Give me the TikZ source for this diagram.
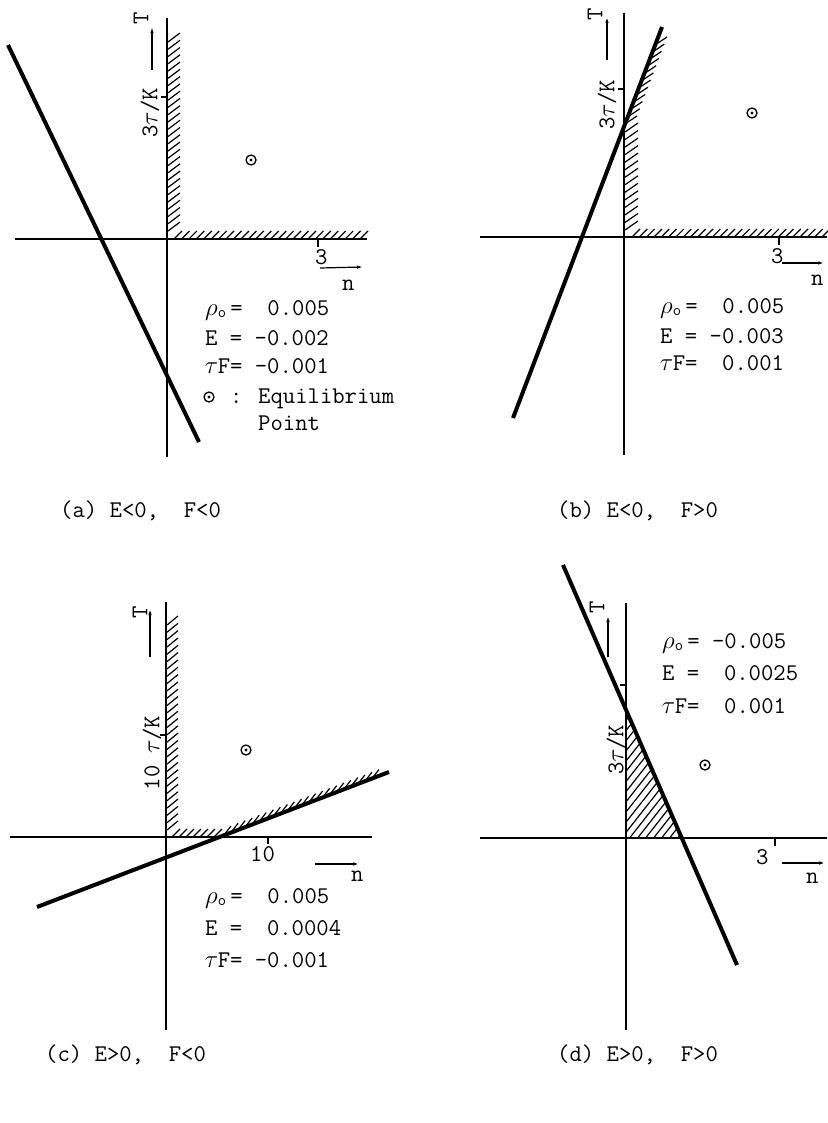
\documentclass[tikz,border=0pt]{standalone}
\usepackage{fontspec}
\usetikzlibrary{calc,arrows.meta}
\newcommand{\blk}{\hphantom{0}}
\newcommand{\tauc}{\makebox[12.6pt]{$\tau$}}
\newcommand{\rhoo}{\makebox[25.2pt][l]{$\rho$\raisebox{-2.5pt}{\fontsize{16}{16}\selectfont o}}}
\newcommand{\hatchalong}[5]{\foreach \hi in {0,...,#3}{\draw[hatch] ($#1!\hi/#3!#2$) -- ++(#4,#5);}}
\begin{document}
\begin{tikzpicture}[x=1pt,y=-1pt,
  axis/.style={line width=1.5pt},
  boldline/.style={line width=4pt},
  hatch/.style={line width=1.2pt},
  tw/.style={font=\ttfamily\fontsize{24}{24}\selectfont, inner sep=0pt, anchor=base west},
  rot/.style={font=\ttfamily\fontsize{24}{24}\selectfont, inner sep=0pt, rotate=90},
  eqpt/.style={circle, draw, line width=1.3pt, minimum size=10pt, inner sep=0pt,
    path picture={\fill (path picture bounding box.center) circle (1.6pt);}},
  dirarrow/.style={line width=1.2pt, -{Latex[length=6pt,width=3.5pt]}},
  tickmark/.style={line width=1.2pt}]
\useasboundingbox (0,0) rectangle (827,1123);

% ---------------- panel (a) ----------------
\hatchalong{(168,42)}{(168,231)}{26}{12}{-9}
\hatchalong{(174,239)}{(360,239)}{25}{8}{-8}
\coordinate (aT) at (167,18); \coordinate (aB) at (167,457);
\coordinate (aL) at (15,239); \coordinate (aR) at (367,239);
\draw[axis] (aT) -- (aB);
\draw[axis] (aL) -- (aR);
\coordinate (a1) at (8,45); \coordinate (a2) at (199,442);
\draw[boldline] (a1) -- (a2);
\coordinate (atv) at (161,97); \draw[tickmark] (atv) -- ++(6,0);
\coordinate (ath) at (318,239); \draw[tickmark] (ath) -- ++(0,8);
\node[rot] (aylab) at (150,113) {3\tauc/K};
\node[rot] (aTlab) at (141,18) {T};
\coordinate (aya0) at (152,70); \coordinate (aya1) at (152,27);
\draw[dirarrow] (aya0) -- (aya1);
\node[tw] (a3) at (315,264) {3};
\coordinate (axa0) at (320,268); \coordinate (axa1) at (363,267);
\draw[dirarrow] (axa0) -- (axa1);
\node[tw] (an) at (342,290) {n};
\node[eqpt] (aeq) at (251,160) {};
\node[tw] (ar1) at (205,315) {\rhoo=\blk\blk0.005};
\node[tw] (ar2) at (205,345) {E\blk=\blk-0.002};
\node[tw] (ar3) at (205,373) {\tauc F=\blk-0.001};
\node[eqpt] (aeqk) at (209,397) {};
\node[tw] (acol) at (230,403) {:};
\node[tw] (aeqt1) at (258,403) {Equilibrium};
\node[tw] (aeqt2) at (258,430) {Point};
\node[tw] (acap) at (60,517) {(a)\blk E<0,\blk\blk F<0};

% ---------------- panel (b) ----------------
\hatchalong{(655,45)}{(625,124)}{11}{12}{-8}
\hatchalong{(625,132)}{(625,230)}{13}{13}{-9}
\hatchalong{(632,237)}{(822,237)}{26}{8}{-8}
\coordinate (bT) at (624,13); \coordinate (bB) at (624,455);
\coordinate (bL) at (480,237); \coordinate (bR) at (827,237);
\draw[axis] (bT) -- (bB);
\draw[axis] (bL) -- (bR);
\coordinate (b1) at (513,418); \coordinate (b2) at (662,27);
\draw[boldline] (b1) -- (b2);
\coordinate (btv) at (618,89); \draw[tickmark] (btv) -- ++(6,0);
\coordinate (bth) at (779,237); \draw[tickmark] (bth) -- ++(0,8);
\node[rot] (bylab) at (607,105) {3\tauc/K};
\node[rot] (bTlab) at (595,14) {T};
\coordinate (bya0) at (607,60); \coordinate (bya1) at (607,17);
\draw[dirarrow] (bya0) -- (bya1);
\node[tw] (b3) at (771,263) {3};
\coordinate (bxa0) at (782,263); \coordinate (bxa1) at (824,263);
\draw[dirarrow] (bxa0) -- (bxa1);
\node[tw] (bn) at (811,285) {n};
\node[eqpt] (beq) at (752,113) {};
\node[tw] (br1) at (660,313) {\rhoo=\blk\blk0.005};
\node[tw] (br2) at (660,343) {E\blk=\blk-0.003};
\node[tw] (br3) at (660,370) {\tauc F=\blk\blk0.001};
\node[tw] (bcap) at (557,517) {(b)\blk E<0,\blk\blk F>0};

% ---------------- panel (c) ----------------
\hatchalong{(167,625)}{(167,830)}{28}{11}{-9}
\hatchalong{(172,837)}{(214,837)}{6}{8}{-8}
\hatchalong{(224,835)}{(372,778.5)}{21}{7}{-9}
\coordinate (cT) at (166,602); \coordinate (cB) at (166,1030);
\coordinate (cL) at (10,837); \coordinate (cR) at (372,837);
\draw[axis] (cT) -- (cB);
\draw[axis] (cL) -- (cR);
\coordinate (c1) at (37,907); \coordinate (c2) at (389,772);
\draw[boldline] (c1) -- (c2);
\coordinate (ctv) at (160,735); \draw[tickmark] (ctv) -- ++(6,0);
\coordinate (cth) at (268,837); \draw[tickmark] (cth) -- ++(0,7);
\node[rot] (cylab) at (152,753) {10\blk\tauc/K};
\node[rot] (cTlab) at (140,612) {T};
\coordinate (cya0) at (150,657); \coordinate (cya1) at (150,609);
\draw[dirarrow] (cya0) -- (cya1);
\node[tw] (c10) at (250,861) {10};
\coordinate (cxa0) at (315,864); \coordinate (cxa1) at (359,864);
\draw[dirarrow] (cxa0) -- (cxa1);
\node[tw] (cn) at (351,881) {n};
\node[eqpt] (ceq) at (246,750) {};
\node[tw] (cr1) at (205,903) {\rhoo=\blk\blk0.005};
\node[tw] (cr2) at (205,935) {E\blk=\blk\blk0.0004};
\node[tw] (cr3) at (205,967) {\tauc F=\blk-0.001};
\node[tw] (ccap) at (45,1061) {(c)\blk E>0,\blk\blk F<0};

% ---------------- panel (d) ----------------
\begin{scope}
\clip (626,710) -- (626,838) -- (680,838) -- cycle;
\foreach \hx in {500,508,...,700} {\draw[hatch] (\hx,840) -- ++(110,-140);}
\end{scope}
\coordinate (dT) at (626,603); \coordinate (dB) at (626,1030);
\coordinate (dL) at (480,838); \coordinate (dR) at (827,838);
\draw[axis] (dT) -- (dB);
\draw[axis] (dL) -- (dR);
\coordinate (d1) at (563,565); \coordinate (d2) at (737,965);
\draw[boldline] (d1) -- (d2);
\coordinate (dtv) at (620,685); \draw[tickmark] (dtv) -- ++(6,0);
\coordinate (dth) at (775,839); \draw[tickmark] (dth) -- ++(0,7);
\node[rot] (dylab) at (616,750) {3\tauc/K};
\node[rot] (dTlab) at (597,607) {T};
\coordinate (dya0) at (608,657); \coordinate (dya1) at (608,616);
\draw[dirarrow] (dya0) -- (dya1);
\node[tw] (d3) at (756,864) {3};
\coordinate (dxa0) at (782,863); \coordinate (dxa1) at (825,863);
\draw[dirarrow] (dxa0) -- (dxa1);
\node[tw] (dn) at (806,883) {n};
\node[eqpt] (deq) at (705,765) {};
\node[tw] (dr1) at (662,648) {\rhoo=\blk-0.005};
\node[tw] (dr2) at (662,680) {E\blk=\blk\blk0.0025};
\node[tw] (dr3) at (662,713) {\tauc F=\blk\blk0.001};
\node[tw] (dcap) at (557,1061) {(d)\blk E>0,\blk\blk F>0};
\end{tikzpicture}
\end{document}
